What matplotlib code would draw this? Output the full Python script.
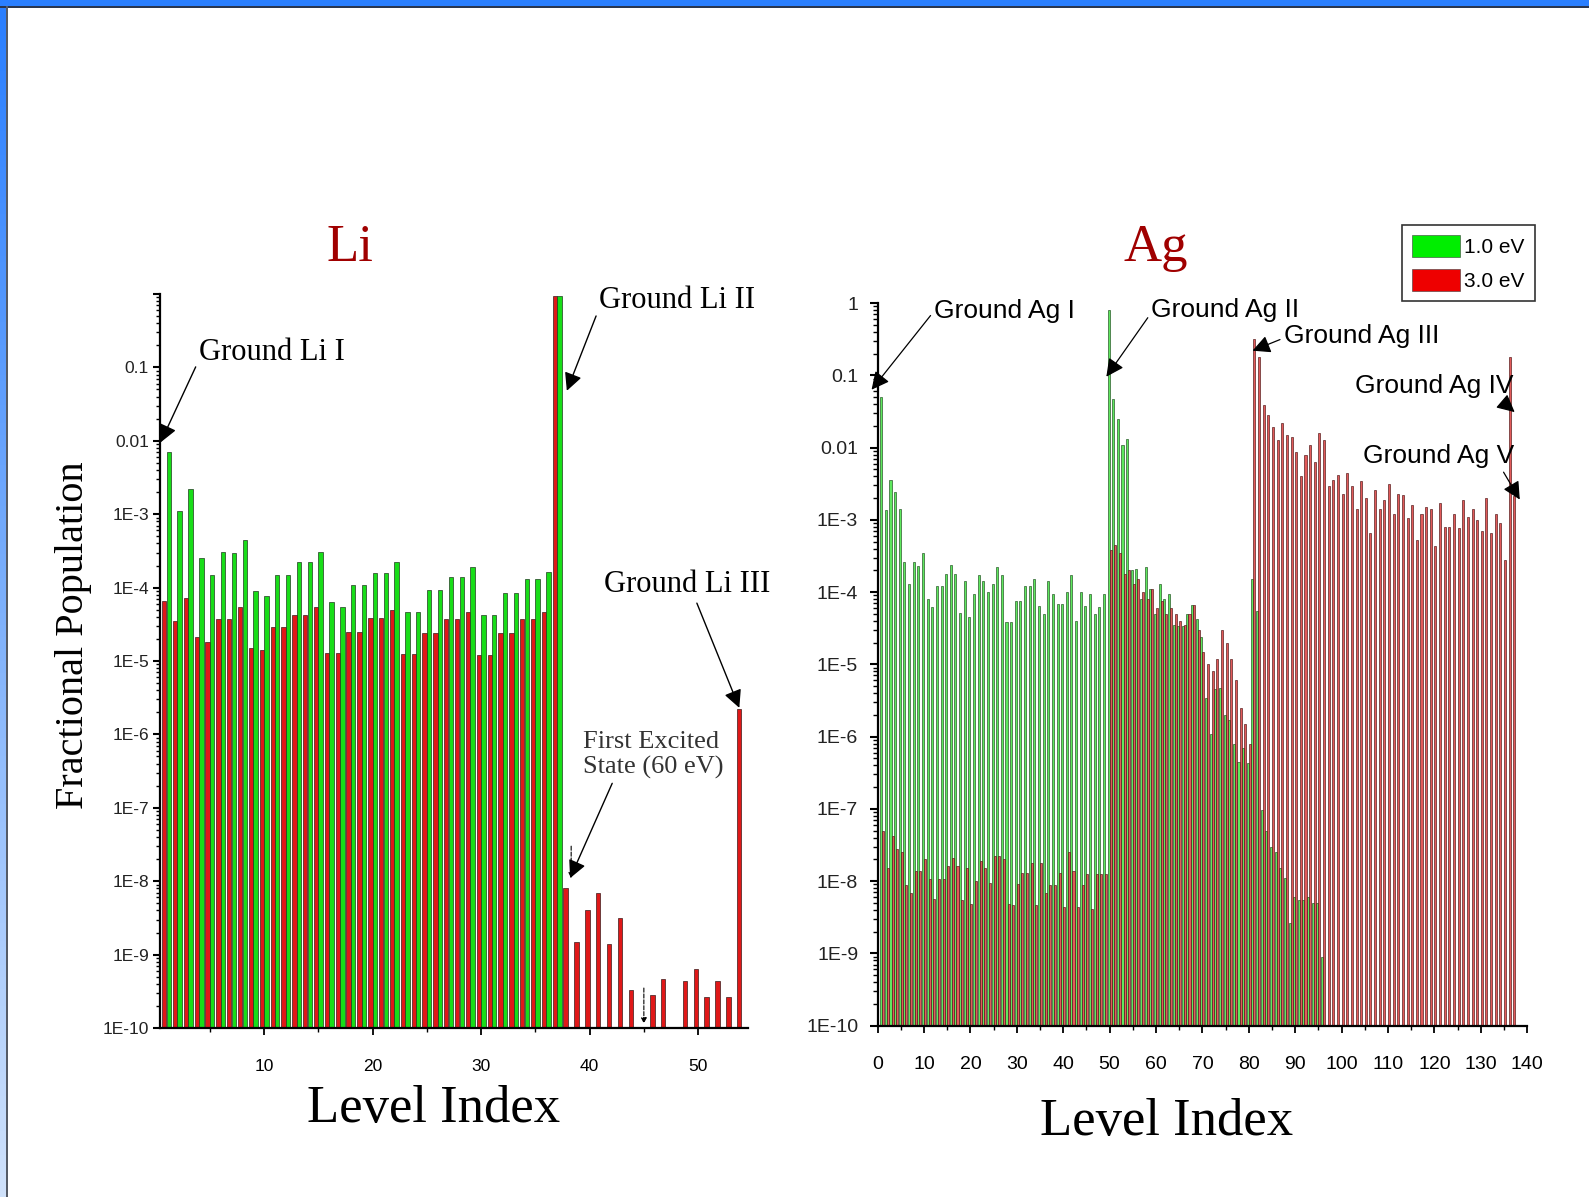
import numpy as np
import matplotlib.pyplot as plt
from matplotlib.ticker import LogLocator, MultipleLocator, NullFormatter
from matplotlib.patches import Rectangle, Patch
from matplotlib.colors import LinearSegmentedColormap

W, H = 1589, 1197
nan = np.nan

# Li: fractional population per level, two electron temperatures
li_levels = np.arange(1, 55)
li_1ev = [7e-3, 1.1e-3, 2.2e-3, 2.5e-4, 1.5e-4, 3.1e-4, 3.0e-4, 4.4e-4, 9e-5, 7.6e-5,
          1.5e-4, 1.5e-4, 2.2e-4, 2.2e-4, 3.1e-4, 6.3e-5, 5.4e-5, 1.1e-4, 1.1e-4, 1.6e-4,
          1.6e-4, 2.2e-4, 4.7e-5, 4.6e-5, 9.4e-5, 9.4e-5, 1.4e-4, 1.4e-4, 1.9e-4, 4.3e-5,
          4.2e-5, 8.5e-5, 8.5e-5, 1.3e-4, 1.3e-4, 1.65e-4, 0.95] + [nan] * 17
li_3ev = [6.5e-5, 3.5e-5, 7.3e-5, 2.1e-5, 1.8e-5, 3.7e-5, 3.7e-5, 5.4e-5, 1.5e-5, 1.4e-5,
          2.9e-5, 2.9e-5, 4.3e-5, 4.3e-5, 5.5e-5, 1.3e-5, 1.3e-5, 2.5e-5, 2.5e-5, 3.9e-5,
          3.9e-5, 5e-5, 1.25e-5, 1.25e-5, 2.4e-5, 2.4e-5, 3.7e-5, 3.7e-5, 4.7e-5, 1.2e-5,
          1.2e-5, 2.4e-5, 2.4e-5, 3.7e-5, 3.7e-5, 4.7e-5, 0.95,
          8e-9, 1.5e-9, 4e-9, 7e-9, 1.4e-9, 3.2e-9, 3.3e-10, nan, 2.8e-10, 4.6e-10, nan,
          4.3e-10, 6.3e-10, 2.6e-10, 4.3e-10, 2.6e-10, 2.2e-6]

# Ag: fractional population per level
ag_levels = np.arange(1, 138)
ag_1ev = ([0.05, 1.35e-3, 3.6e-3, 2.4e-3, 1.4e-3, 2.6e-4, 1.3e-4, 2.6e-4, 2.3e-4, 3.5e-4,
           8e-5, 6.2e-5, 1.2e-4, 1.2e-4, 1.8e-4, 2.4e-4, 1.8e-4, 5.2e-5, 1.4e-4, 4.5e-5,
           9.3e-5, 1.7e-4, 1.4e-4, 1e-4, 1.3e-4, 2.2e-4, 1.7e-4, 3.9e-5, 3.8e-5, 7.6e-5,
           7.6e-5, 1.2e-4, 1.2e-4, 1.5e-4, 6.5e-5, 4.9e-5, 1.4e-4, 9.3e-5, 6.8e-5, 6.8e-5,
           1e-4, 1.7e-4, 4e-5, 1e-4, 6.5e-5, 9.3e-5, 4.9e-5, 6.2e-5, 9.3e-5,
           0.8, 0.047, 0.025, 0.011, 0.013,
           2e-4, 2.1e-4, 8e-5, 2.2e-4, 1.1e-4, 5e-5, 1.3e-4, 8e-5, 9.5e-5, 3.5e-5,
           3.4e-5, 3.4e-5, 5e-5, 6.6e-5, 4.3e-5, 2.4e-5,
           3.4e-6, 1.1e-6, 4.5e-6, 4.7e-6, 2e-6, 1.7e-6, 8e-7, 4.5e-7, 7e-7, 4.3e-7,
           1.5e-4, 5.4e-5,
           9.5e-8, 5e-8, 3e-8, 2.5e-8, 1.5e-8, 1.1e-8, 2.6e-9, 6e-9, 5.5e-9, 5.5e-9,
           6e-9, 5e-9, 5e-9, 9e-10]
          + [nan] * 41)
ag_3ev = [4.9e-8, 1.5e-8, 4.2e-8, 2.8e-8, 2.5e-8, 8.7e-9, 6.9e-9, 1.4e-8, 1.4e-8, 2e-8,
          1.07e-8, 5.6e-9, 1.07e-8, 1.07e-8, 1.6e-8, 2.1e-8, 1.6e-8, 5.4e-9, 1.5e-8, 4.8e-9,
          1e-8, 1.9e-8, 1.5e-8, 9.5e-9, 2.2e-8, 2.2e-8, 2e-8, 4.8e-9, 4.6e-9, 9.1e-9,
          1.3e-8, 1.3e-8, 1.8e-8, 4.6e-9, 1.8e-8, 6.9e-9, 8.7e-9, 8.7e-9, 1.3e-8, 4.4e-9,
          2.5e-8, 1.4e-8, 4.4e-9, 8.7e-9, 1.25e-8, 4.1e-9, 1.25e-8, 1.25e-8, 1.25e-8,
          3.8e-4, 4.5e-4, 3.5e-4, 1.8e-4, 2e-4,
          1.3e-4, 1.5e-4, 1e-4, 8e-5, 1.1e-4, 6e-5, 7.5e-5, 5e-5, 6e-5, 5e-5,
          4e-5, 3.5e-5, 5e-5, 6.6e-5, 3e-5, 1.5e-5,
          1e-5, 8e-6, 1.2e-5, 3e-5, 2e-5, 1.2e-5, 6e-6, 2.5e-6, 1.5e-6, 8e-7,
          0.32, 0.18, 0.039, 0.028, 0.019, 0.0127, 0.022, 0.015, 0.014, 8.7e-3,
          4e-3, 7.9e-3, 0.011, 6.3e-3, 0.016, 0.0127, 2.9e-3, 3.5e-3, 4.2e-3, 2.3e-3,
          4.4e-3, 2.9e-3, 1.4e-3, 3.4e-3, 2e-3, 6.5e-4, 2.6e-3, 1.4e-3, 1.9e-3, 3.1e-3,
          1.2e-3, 2.3e-3, 2.2e-3, 1.05e-3, 1.6e-3, 5.3e-4, 1.2e-3, 1.5e-3, 1.4e-3, 4.3e-4,
          1.7e-3, 8e-4, 8e-4, 1.2e-3, 7.7e-4, 1.9e-3, 1.1e-3, 1.4e-3, 1e-3, 6.9e-4,
          2e-3, 6.5e-4, 1.2e-3, 9e-4, 2.8e-4, 0.18, 2.1e-3]

decades = [10.0 ** -k for k in range(0, 11)]
li_ylabels = [''] + ['0.1', '0.01'] + ['1E-%d' % k for k in range(3, 11)]
ag_ylabels = ['1', '0.1', '0.01'] + ['1E-%d' % k for k in range(3, 11)]
series_labels = ['1.0 eV', '3.0 eV']

SERIF = ['Liberation Serif', 'DejaVu Serif']
SANS = ['Liberation Sans', 'DejaVu Sans']
GREEN, RED = '#18dd18', '#e01818'


def fig_xy(px, py):
    return px / W, 1 - py / H


def draw_bars(ax, x, y, offset, width, color, edge, lw):
    x = np.asarray(x, float)
    y = np.asarray(y, float)
    ok = np.isfinite(y)
    ax.bar(x[ok] + offset, y[ok], width=width, bottom=1e-12, color=color,
           edgecolor=edge, linewidth=lw, align='center')


def style_axes(ax, labels, fontfam, fsize, ylen, ypad, xpad):
    ax.set_yscale('log')
    ax.set_ylim(1e-10, 1)
    ax.set_yticks(decades)
    ax.set_yticklabels(labels, family=fontfam, fontsize=fsize, color='#222222')
    ax.yaxis.set_minor_locator(LogLocator(base=10, subs=np.arange(2, 10), numticks=30))
    ax.yaxis.set_minor_formatter(NullFormatter())
    for s in ['top', 'right']:
        ax.spines[s].set_visible(False)
    for s in ['left', 'bottom']:
        ax.spines[s].set_linewidth(1.6)
    ax.tick_params(axis='y', which='major', length=ylen, width=1.5, pad=ypad)
    ax.tick_params(axis='y', which='minor', length=ylen * 0.55, width=1.0)
    ax.tick_params(axis='x', which='major', length=5, width=1.3, pad=xpad)
    ax.tick_params(axis='x', which='minor', length=3, width=1.0)
    for t in ax.get_xticklabels():
        t.set_family(fontfam)
        t.set_fontsize(fsize)
    ax.set_facecolor('none')


fig = plt.figure(figsize=(W / 100, H / 100), dpi=100)
fig.patch.set_facecolor('white')

# window frame: blue top bar and left strip
fig.patches.append(Rectangle((0, 1 - 6 / H), 1, 6 / H, transform=fig.transFigure,
                             facecolor='#2a7fff', edgecolor='none', zorder=5))
fig.patches.append(Rectangle((0, 1 - 7.5 / H), 1, 1.5 / H, transform=fig.transFigure,
                             facecolor='#2a3650', edgecolor='none', zorder=5))
strip = fig.add_axes([0, 0, 6 / W, 1 - 6 / H])
strip_cmap = LinearSegmentedColormap.from_list('strip', ['#2a7fff', '#cfe1fa'])
strip.imshow(np.linspace(0, 1, 200)[:, None], aspect='auto', cmap=strip_cmap,
             extent=[0, 1, 0, 1], origin='upper')
strip.axis('off')
fig.patches.append(Rectangle((6 / W, 0), 1.6 / W, 1 - 6 / H, transform=fig.transFigure,
                             facecolor='#555b66', edgecolor='none', zorder=5))

# ---- Li panel ----
ax_li = fig.add_axes([160 / W, 1 - 1028 / H, 588 / W, (1028 - 294) / H])
draw_bars(ax_li, li_levels, li_3ev, -0.21, 0.4, RED, '#3a1a1a', 0.5)
draw_bars(ax_li, li_levels, li_1ev, 0.21, 0.4, GREEN, '#1f3a1f', 0.5)
ax_li.set_xlim(0.4, 54.6)
ax_li.xaxis.set_major_locator(MultipleLocator(10))
ax_li.xaxis.set_minor_locator(MultipleLocator(5))
style_axes(ax_li, li_ylabels, SANS, 12.5, 5, 3, 17)

arrow = dict(arrowstyle='-|>', color='black', lw=1.0, mutation_scale=27,
             shrinkA=1, shrinkB=0)
ax_li.annotate('Ground Li I', xy=(0.45, 0.0095), xytext=(4.0, 0.16),
               fontsize=22, family=SERIF, ha='left', va='center',
               arrowprops=dict(arrow, relpos=(0, 0.25)), annotation_clip=False)
ax_li.annotate('Ground Li II', xy=(37.9, 0.048), xytext=(40.9, 0.82),
               fontsize=22, family=SERIF, ha='left', va='center',
               arrowprops=dict(arrow, relpos=(0, 0.25)), annotation_clip=False)
ax_li.annotate('Ground Li III', xy=(53.8, 2.3e-6), xytext=(41.3, 1.1e-4),
               fontsize=22, family=SERIF, ha='left', va='center',
               arrowprops=dict(arrow, relpos=(0.55, 0.0)), annotation_clip=False)
ax_li.annotate('First Excited\nState (60 eV)', xy=(38.2, 1.1e-8), xytext=(39.4, 10 ** -6.28),
               fontsize=19, family=SERIF, ha='left', va='center', linespacing=1.2,
               color='#333333',
               arrowprops=dict(arrow, relpos=(0.22, 0.0)), annotation_clip=False)
ax_li.annotate('', xy=(45.0, 1.15e-10), xytext=(45.0, 3.5e-10),
               arrowprops=dict(arrowstyle='-|>', color='black', lw=0.8, ls='--',
                               mutation_scale=8, shrinkA=0, shrinkB=0))
ax_li.annotate('', xy=(38.3, 1.1e-8), xytext=(38.3, 3e-8),
               arrowprops=dict(arrowstyle='-|>', color='black', lw=0.8, ls='--',
                               mutation_scale=8, shrinkA=0, shrinkB=0))

# ---- Ag panel ----
ax_ag = fig.add_axes([877.6 / W, 1 - 1025.6 / H, 649.6 / W, (1025.6 - 303) / H])
draw_bars(ax_ag, ag_levels, ag_1ev, -0.22, 0.44, '#5ee85e', '#1c4a1c', 0.45)
draw_bars(ax_ag, ag_levels, ag_3ev, 0.22, 0.44, '#e25a5a', '#4a1212', 0.45)
ax_ag.set_xlim(0, 140)
ax_ag.set_xticks(np.arange(0, 141, 10))
ax_ag.xaxis.set_minor_locator(MultipleLocator(5))
style_axes(ax_ag, ag_ylabels, SANS, 14, 6, 8, 17)

for label, tip, txt, rel in [
        ('Ground Ag I', (-1.3, 10 ** -1.2), (12.2, 10 ** -0.11), (0, 0.5)),
        ('Ground Ag II', (49.3, 10 ** -1.02), (59.0, 10 ** -0.1), (0, 0.4)),
        ('Ground Ag III', (80.8, 10 ** -0.66), (87.6, 10 ** -0.45), (0, 0.4)),
        ('Ground Ag IV', (137.3, 10 ** -1.51), (102.8, 10 ** -1.15), (0.88, 0.15)),
        ('Ground Ag V', (138.4, 10 ** -2.72), (104.6, 10 ** -2.12), (0.9, 0.15))]:
    ax_ag.annotate(label, xy=tip, xytext=txt, fontsize=19, family=SANS,
                   ha='left', va='center',
                   arrowprops=dict(arrow, relpos=rel, lw=0.9), annotation_clip=False)

# titles and axis labels
fig.text(*fig_xy(350, 248), 'Li', fontsize=38, family=SERIF, color='#a00000',
         ha='center', va='center')
fig.text(*fig_xy(1156, 248), 'Ag', fontsize=38, family=SERIF, color='#a00000',
         ha='center', va='center')
fig.text(*fig_xy(74, 635), 'Fractional Population', fontsize=29, family=SERIF,
         rotation=90, ha='center', va='center')
fig.text(*fig_xy(434, 1109), 'Level Index', fontsize=38, family=SERIF,
         ha='center', va='center')
fig.text(*fig_xy(1167, 1122), 'Level Index', fontsize=38, family=SERIF,
         ha='center', va='center')

handles = [Patch(facecolor='#00ee00', edgecolor='#3a3a3a', lw=0.4),
           Patch(facecolor='#ee0000', edgecolor='#3a3a3a', lw=0.4)]
leg = fig.legend(handles, series_labels, loc='upper right',
                 bbox_to_anchor=fig_xy(1535, 225), frameon=True, fancybox=False,
                 edgecolor='black', prop={'family': SANS, 'size': 15},
                 handlelength=2.3, handleheight=1.25, handletextpad=0.2,
                 borderpad=0.5, labelspacing=0.55, borderaxespad=0)
leg.get_frame().set_linewidth(1.2)

fig.savefig('out.png', dpi=100)
